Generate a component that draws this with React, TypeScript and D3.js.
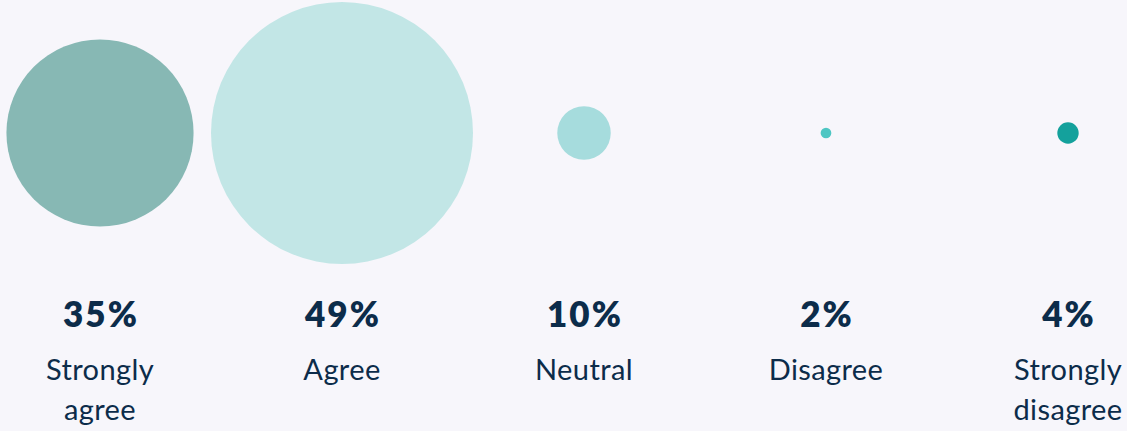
import React from "react";
import * as d3 from "d3";

const categories = ["Strongly agree", "Agree", "Neutral", "Disagree", "Strongly disagree"];
const values = [35, 49, 10, 2, 4];
const labelLines = [["Strongly", "agree"], ["Agree"], ["Neutral"], ["Disagree"], ["Strongly", "disagree"]];
const colors = ["#87b8b4", "#c2e6e6", "#a6dcdd", "#4ec6c3", "#14a19c"];

const W = 1127;
const H = 431;

export default function App() {
  React.useEffect(() => {
    document.body.style.margin = "0";
    document.body.style.background = "#f7f6fb";
  }, []);
  const x = d3.scalePoint<string>().domain(categories).range([100, 1068]);
  const r = d3.scaleLinear().domain([0, 49]).range([0, 131]);
  const cy = 133;
  const textColor = "#0c2c4a";
  return (
    <svg width={W} height={H} style={{ display: "block", background: "#f7f6fb" }}>
      {categories.map((c, i) => (
        <g key={c} transform={`translate(${x(c)},0)`}>
          <circle cx={0} cy={cy} r={r(values[i])} fill={colors[i]} />
          <text
            x={1}
            y={327}
            textAnchor="middle"
            fontFamily="Lato, sans-serif"
            fontWeight={800}
            fontSize={35}
            letterSpacing={2}
            fill={textColor}
          >
            {values[i]}%
          </text>
          {labelLines[i].map((line, j) => (
            <text
              key={j}
              x={0}
              y={380 + j * 40}
              textAnchor="middle"
              fontFamily="Lato, sans-serif"
              fontWeight={400}
              fontSize={29}
              letterSpacing={0.4}
              fill={textColor}
            >
              {line}
            </text>
          ))}
        </g>
      ))}
    </svg>
  );
}
